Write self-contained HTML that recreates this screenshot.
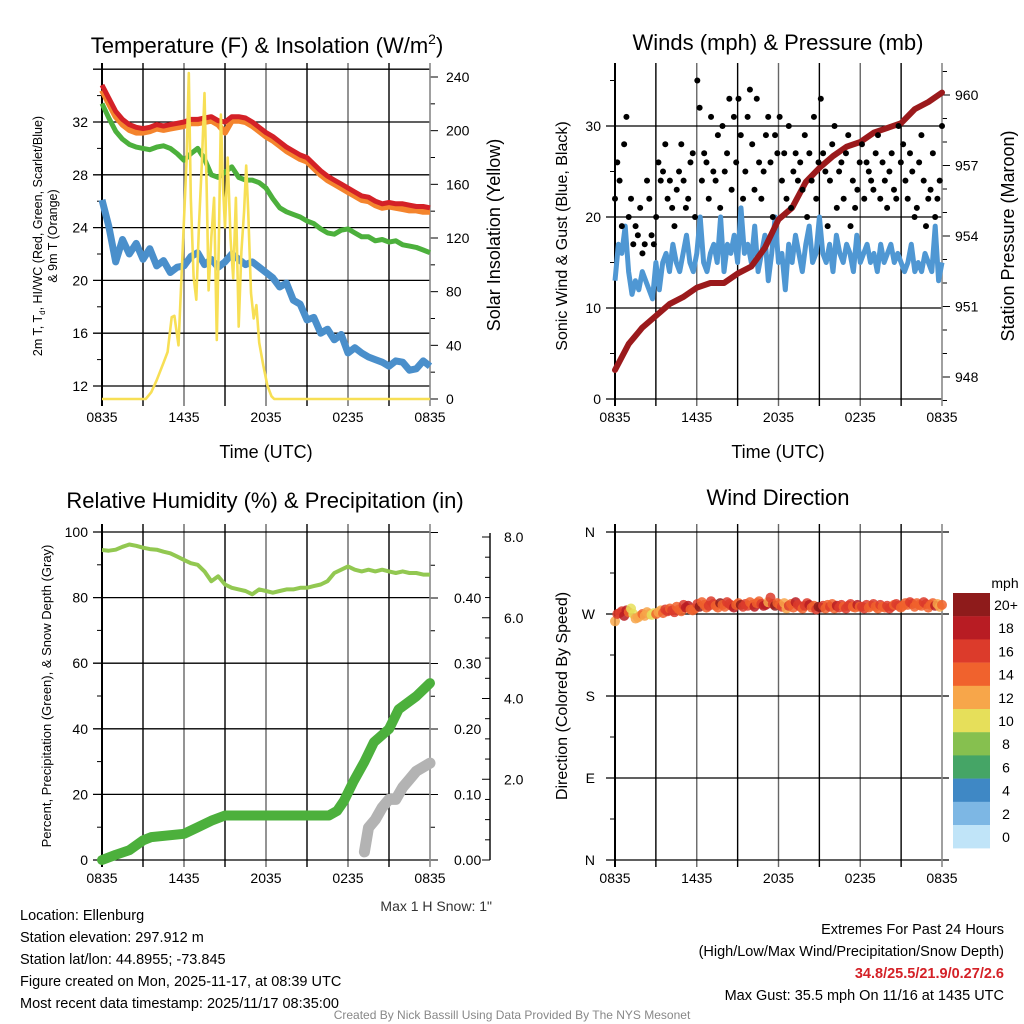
<!DOCTYPE html>
<html><head><meta charset="utf-8"><style>
html,body{margin:0;padding:0;background:#fff}
svg{display:block;font-family:"Liberation Sans",sans-serif}
</style></head><body>
<svg id="s" width="1024" height="1024" viewBox="0 0 1024 1024" xmlns="http://www.w3.org/2000/svg">
<g id="g"></g>
</svg>
<script>
const timeLabels=["0835","1435","2035","0235","0835"];
const tempLeftTicks=[12,16,20,24,28,32];
const insTicks=[0,40,80,120,160,200,240];
const windTicks=[0,10,20,30];
const presTicks=[948,951,954,957,960];
const rhTicks=[0,20,40,60,80,100];
const precTicks=["0.00","0.10","0.20","0.30","0.40"];
const snowTicks=["","2.0","4.0","6.0","8.0"];
const dirLabels=["N","E","S","W","N"];
const cbLabels=["20+","18","16","14","12","10","8","6","4","2","0"];
const cbColors=["#8e1b1b","#b81c23","#dc3b2b","#f0622d","#f7a64a","#e6df5a","#86c04f","#45a566","#3f88c5","#7db7e4","#c0e4f8"];

const tempRed=[34.8,33.8,32.8,32.2,31.8,31.6,31.5,31.6,31.8,31.7,31.8,31.9,32.0,32.2,32.2,32.3,32.4,32.1,32.0,32.4,32.4,32.3,32.0,31.6,31.2,30.9,30.5,30.1,29.8,29.5,29.3,28.8,28.3,27.9,27.6,27.3,27.0,26.7,26.4,26.3,26.0,25.8,25.9,25.8,25.8,25.7,25.6,25.6,25.5];
const tempOrange=[34.4,33.4,32.4,31.8,31.4,31.2,31.2,31.3,31.5,31.4,31.5,31.6,31.7,31.9,31.9,32.0,32.1,31.8,31.2,32.1,32.1,32.0,31.7,31.3,30.9,30.6,30.2,29.8,29.5,29.2,29.0,28.5,28.0,27.6,27.3,27.0,26.7,26.4,26.1,26.0,25.7,25.5,25.6,25.5,25.4,25.3,25.3,25.2,25.2];
const tempGreen=[33.4,32.3,31.3,30.7,30.3,30.1,30.0,29.9,30.1,30.2,30.0,29.6,29.1,29.6,30.0,29.2,28.0,27.8,28.2,28.6,27.8,27.6,27.6,27.4,27.0,26.2,25.5,25.2,25.0,24.8,24.5,24.3,23.9,23.6,23.5,23.8,23.9,23.6,23.3,23.3,23.0,23.1,22.9,23.0,22.7,22.6,22.5,22.3,22.1];
const dewBlue=[26.1,24.1,21.4,23.1,22.0,22.8,21.6,22.4,21.1,21.5,20.6,21.0,21.1,21.8,22.1,21.2,21.6,21.0,21.4,22.0,21.6,21.2,21.4,21.0,20.6,20.2,19.5,19.8,18.5,18.2,17.0,17.2,16.0,16.3,15.5,15.9,14.5,14.9,14.5,14.2,14.0,13.8,13.5,13.9,13.8,13.2,13.3,13.9,13.5];
const insTimes=[0,3.2,3.6,4,4.5,4.8,5.1,5.3,5.6,5.9,6.2,6.35,6.5,6.7,6.9,7.1,7.3,7.5,7.65,7.8,8.0,8.2,8.4,8.55,8.7,8.85,9.0,9.2,9.4,9.6,9.8,10.0,10.2,10.4,10.55,10.7,10.9,11.1,11.3,11.5,11.8,12.1,12.4,12.6,24];
const insValues=[0,0,5,14,27,35,61,62,40,110,180,243,150,91,74,130,175,228,160,81,120,150,44,120,212,160,128,180,120,90,150,54,110,140,174,140,79,60,70,42,25,10,2,0,0];

const sonicWind=[13,17,16,19,14,11.5,13,12,14,13,12,11,15,12,15,16,14,17,15,14,16,18,15,14,16,20,15,14,16,17,15,20,14,17,16,18,15,21,16,17,15,19,14,16,18,13,16,20,15,16,12,17,15,18,16,14,17,19,15,16,20,16,15,17,14,18,16,15,17,16,14,18,15,16,17,15,16,14,17,15,16,17,15,16,15,14,15,17,14,15,14,16,15,14,19,13,15];
const gusts=[22,26,24,19,28,31,20,22,17,19,18,21,16,17,24,22,18,17,20,26,24,25,28,22,24,21,19,23,25,28,24,21,22,26,27,20,35,32,24,27,26,22,31,25,24,29,21,30,25,27,33,23,31,26,33,29,22,25,31,34,28,23,33,26,22,25,29,31,26,20,29,27,31,24,27,22,30,21,25,27,24,26,23,29,20,27,24,31,22,26,33,27,25,19,24,28,30,21,25,26,22,27,29,19,24,21,23,26,28,22,26,25,24,23,27,29,22,26,24,21,25,27,23,22,30,26,28,24,22,27,25,20,21,26,29,24,19,22,23,27,20,22,24,30];
const pressure=[948.3,949.4,950.1,950.6,951.1,951.4,951.8,952.0,952.0,952.4,952.7,953.5,954.7,955.2,956.3,956.9,957.4,957.8,958.0,958.4,958.6,958.8,959.4,959.7,960.1];

const rh=[94.5,94.3,94.6,95.5,96.2,95.8,95.2,94.8,94.6,94.0,93.5,92.5,91.5,90.5,90.0,88.0,85.0,86.5,84.0,83.0,82.5,82.0,81.0,82.5,82.0,81.5,82.0,82.5,82.5,83.0,83.0,83.5,84.0,85.0,87.5,88.5,89.5,88.5,88.0,88.5,88.0,88.5,88.0,87.5,88.0,87.5,87.5,87.0,87.0];
const precTimes=[0,1,2,3,3.6,6,7,8,9,16.6,17.2,17.7,18.4,19.2,19.9,21,21.7,23,24];
const precValues=[0,0.008,0.015,0.03,0.035,0.04,0.05,0.06,0.068,0.068,0.075,0.09,0.12,0.15,0.18,0.2,0.23,0.25,0.27];
const snowTimes=[19.2,19.5,20,20.5,21,21.5,22,22.5,23,24];
const snowValues=[0.2,0.8,1.0,1.3,1.5,1.5,1.8,2.0,2.2,2.4];
const windDir=[262,270,271,273,268,274,272,276,270,265,266,268,270,268,272,270,269,271,270,272,274,271,275,273,276,274,272,278,275,273,280,277,279,275,274,276,281,278,283,280,277,279,284,281,279,277,282,280,278,283,281,279,277,280,282,280,278,281,279,283,280,278,282,284,281,279,280,283,288,281,279,282,280,278,282,276,279,281,277,283,280,278,276,279,282,280,277,279,275,278,277,279,276,280,278,281,276,279,277,280,278,276,279,281,278,277,280,278,278,276,280,277,279,281,278,276,280,278,277,279,276,278,280,281,279,277,279,282,280,283,281,278,282,280,279,283,281,277,280,282,279,281,278,280];

const NS="http://www.w3.org/2000/svg";
const G=document.getElementById('g');
function el(tag,attrs,parent){const e=document.createElementNS(NS,tag);for(const k in attrs)e.setAttribute(k,attrs[k]);(parent||G).appendChild(e);return e;}
function txt(x,y,s,size,anchor,parent,extra){const t=el('text',Object.assign({x:x,y:y,'font-size':size,'text-anchor':anchor||'middle',fill:'#000'},extra||{}),parent);t.textContent=s;return t;}
function lin(d0,d1,r0,r1){return v=>r0+(v-d0)/(d1-d0)*(r1-r0);}
function pathFrom(xs,ys){let d='';for(let i=0;i<xs.length;i++)d+=(i?'L':'M')+xs[i].toFixed(1)+','+ys[i].toFixed(1);return d;}
function idxT(n,i){return i*24/(n-1);}

function frame(x0,x1,y0,y1,name){
  const g=el('g',{});
  
  
  const xs=lin(0,24,x0,x1);
  for(let h=3;h<24;h+=3){const l=el('line',{x1:xs(h),x2:xs(h),y1:y0-9,y2:y1+7,stroke:(h%6==0?'#666':'#000'),'stroke-width':1.4},g);
    }
  for(let i=0;i<timeLabels.length;i++){const t=txt(xs(i*6),y1+23,timeLabels[i],14,'middle',g);
    }
  return {g,xs};
}
function box(x0,x1,y0,y1,g){
  el('line',{x1:x0,x2:x0,y1:y0-9,y2:y1+7,stroke:'#000','stroke-width':2},g);
  el('line',{x1:x1,x2:x1,y1:y0-9,y2:y1+7,stroke:'#888','stroke-width':1.6},g);
}

/* ---------- Panel 1 ---------- */
(function(){
  const x0=102,x1=430,y0=72,y1=399;
  const {g,xs}=frame(x0,x1,y0,y1,'temperature-panel');
  const yt=lin(12,32,386,122), yi=lin(0,240,399,77);
  for(let v=12;v<=36;v+=4){const l=el('line',{x1:x0-9,x2:x1,y1:yt(v),y2:yt(v),stroke:'#000','stroke-width':1.3},g);}
  for(let v=14;v<=34;v+=4)el('line',{x1:x0-5,x2:x0,y1:yt(v),y2:yt(v),stroke:'#000'},g);
  tempLeftTicks.forEach(v=>{const t=txt(x0-14,yt(v)+5,String(v),14,'end',g);});
  for(let v=0;v<=240;v+=20)el('line',{x1:x1,x2:x1+(v%40==0?8:5),y1:yi(v),y2:yi(v),stroke:'#000'},g);
  insTicks.forEach(v=>{const t=txt(x1+16,yi(v)+5,String(v),14,'start',g);});
  box(x0,x1,y0,y1,g);
  const series=[[dewBlue,'#4a8fcb','dewpoint-line',7],[tempGreen,'#4cb03c','heat-index-line',5],[tempOrange,'#f4842d','temp-9m-line',6],[tempRed,'#d42127','temp-2m-line',5]];
  series.forEach(s=>{const arr=s[0];const p=el('path',{d:pathFrom(arr.map((v,i)=>xs(idxT(arr.length,i))),arr.map(v=>yt(v))),fill:'none',stroke:s[1],'stroke-width':s[3],'stroke-linejoin':'round'},g);
    });
  const ip=el('path',{d:pathFrom(insTimes.map(xs),insValues.map(yi)),fill:'none',stroke:'#f7df55','stroke-width':2.6,'stroke-linejoin':'round'},g);
  
  const t=el('text',{x:267,y:53,'font-size':22,'text-anchor':'middle',fill:'#000'},g);
  t.innerHTML='Temperature (F) &amp; Insolation (W/m<tspan dy="-9" font-size="14">2</tspan><tspan dy="9">)</tspan>';
  
  const xt=txt(266,458,'Time (UTC)',18,'middle',g);
  const a=el('text',{transform:'translate(42,236) rotate(-90)','font-size':12.5,'text-anchor':'middle',fill:'#000'},g);
  a.innerHTML='2m T, T<tspan dy="3" font-size="8">d</tspan><tspan dy="-3">, HI/WC (Red, Green, Scarlet/Blue)</tspan>';
  
  const a2=el('text',{transform:'translate(57,236) rotate(-90)','font-size':12.5,'text-anchor':'middle',fill:'#000'},g);a2.textContent='& 9m T (Orange)';
  
  const r=el('text',{transform:'translate(500,235) rotate(-90)','font-size':18,'text-anchor':'middle',fill:'#000'},g);r.textContent='Solar Insolation (Yellow)';
  
})();

/* ---------- Panel 2 ---------- */
(function(){
  const x0=615,x1=942,y0=72,y1=399;
  const {g,xs}=frame(x0,x1,y0,y1,'winds-panel');
  const yw=lin(0,30,399,126), yp=lin(948,960,377,95);
  for(let v=0;v<=30;v+=10){const l=el('line',{x1:x0-9,x2:x1,y1:yw(v),y2:yw(v),stroke:'#000','stroke-width':1.3},g);}
  for(let v=5;v<=35;v+=10)el('line',{x1:x0-5,x2:x0,y1:yw(v),y2:yw(v),stroke:'#000'},g);
  windTicks.forEach(v=>{const t=txt(x0-14,yw(v)+5,String(v),14,'end',g);});
  for(let v=947;v<=961;v+=1)el('line',{x1:x1,x2:x1+((v-948)%3==0?8:5),y1:yp(v),y2:yp(v),stroke:'#000'},g);
  presTicks.forEach(v=>{const t=txt(x1+13,yp(v)+5,String(v),14,'start',g);});
  box(x0,x1,y0,y1,g);
  const wp=el('path',{d:pathFrom(sonicWind.map((v,i)=>xs(idxT(sonicWind.length,i))),sonicWind.map(yw)),fill:'none',stroke:'#4f97d3','stroke-width':5,'stroke-linejoin':'round'},g);
  
  const pp=el('path',{d:pathFrom(pressure.map((v,i)=>xs(idxT(pressure.length,i))),pressure.map(yp)),fill:'none',stroke:'#9b1a1c','stroke-width':6,'stroke-linejoin':'round','stroke-linecap':'round'},g);
  
  gusts.forEach((v,i)=>{const c=el('circle',{cx:xs(idxT(gusts.length,i)),cy:yw(v),r:3,fill:'#000'},g);
    });
  const t=txt(778,50,'Winds (mph) & Pressure (mb)',22,'middle',g);
  const xt=txt(778,458,'Time (UTC)',18,'middle',g);
  const a=el('text',{transform:'translate(567,236) rotate(-90)','font-size':16,'text-anchor':'middle',fill:'#000'},g);a.textContent='Sonic Wind & Gust (Blue, Black)';
  
  const r=el('text',{transform:'translate(1014,236) rotate(-90)','font-size':18,'text-anchor':'middle',fill:'#000'},g);r.textContent='Station Pressure (Maroon)';
  
})();

/* ---------- Panel 3 ---------- */
(function(){
  const x0=102,x1=430,y0=533,y1=860;
  const {g,xs}=frame(x0,x1,y0,y1,'humidity-panel');
  const yr=lin(0,100,860,532), yq=lin(0,0.1,860,794.5), ys=lin(0,8,860,537);
  for(let v=0;v<=100;v+=20){const l=el('line',{x1:x0-9,x2:x1,y1:yr(v),y2:yr(v),stroke:'#000','stroke-width':1.3},g);}
  for(let v=10;v<=90;v+=20)el('line',{x1:x0-5,x2:x0,y1:yr(v),y2:yr(v),stroke:'#000'},g);
  rhTicks.forEach(v=>{const t=txt(x0-14,yr(v)+5,String(v),14,'end',g);});
  for(let i=0;i<=10;i++){const v=i*0.05;el('line',{x1:x1,x2:x1+(i%2==0?8:5),y1:yq(v),y2:yq(v),stroke:'#000'},g);}
  precTicks.forEach((s,i)=>{const t=txt(x1+24,yq(i*0.1)+5,s,14,'start',g);});
  el('line',{x1:490,x2:490,y1:533,y2:860,stroke:'#000','stroke-width':1.4},g);
  for(let i=0;i<=16;i++){el('line',{x1:490,x2:490-(i%4==0?8:5),y1:ys(i*0.5),y2:ys(i*0.5),stroke:'#000'},g);}
  snowTicks.forEach((s,i)=>{if(!s)return;const t=txt(504,ys(i*2)+5,s,14,'start',g);});
  box(x0,x1,y0,y1,g);
  const rp=el('path',{d:pathFrom(rh.map((v,i)=>xs(idxT(rh.length,i))),rh.map(yr)),fill:'none',stroke:'#92c851','stroke-width':4,'stroke-linejoin':'round'},g);
  
  const sp=el('path',{d:pathFrom(snowTimes.map(xs),snowValues.map(ys)),fill:'none',stroke:'#b3b3b3','stroke-width':11,'stroke-linejoin':'round','stroke-linecap':'round'},g);
  
  const qp=el('path',{d:pathFrom(precTimes.map(xs),precValues.map(yq)),fill:'none',stroke:'#4cb03c','stroke-width':10,'stroke-linejoin':'round','stroke-linecap':'round'},g);
  
  const t=txt(265,508,'Relative Humidity (%) & Precipitation (in)',22,'middle',g);
  const a=el('text',{transform:'translate(51,696) rotate(-90)','font-size':13,'text-anchor':'middle',fill:'#000'},g);a.textContent='Percent, Precipitation (Green), & Snow Depth (Gray)';
  
  const n=txt(492,911,'Max 1 H Snow: 1"',14,'end',g,{fill:'#333'});
})();

/* ---------- Panel 4 ---------- */
(function(){
  const x0=615,x1=942,y0=533,y1=860;
  const {g,xs}=frame(x0,x1,y0,y1,'wind-direction-panel');
  const yd=lin(0,360,860,532);
  for(let v=0;v<=360;v+=90){const l=el('line',{x1:x0-9,x2:x1+7,y1:yd(v),y2:yd(v),stroke:'#000','stroke-width':1.3},g);}
  for(let v=45;v<360;v+=90)el('line',{x1:x0-5,x2:x0,y1:yd(v),y2:yd(v),stroke:'#000'},g);
  dirLabels.forEach((s,i)=>{const t=txt(x0-20,yd(i*90)+5,s,14,'end',g);});
  box(x0,x1,y0,y1,g);
  windDir.forEach((v,i)=>{const tt=idxT(windDir.length,i);const wi=Math.round(tt/24*(sonicWind.length-1));const sp=sonicWind[wi];
    const ci=Math.max(0,Math.min(10,10-Math.floor(sp/2)));
    const c=el('circle',{cx:xs(tt),cy:yd(v),r:5,fill:cbColors[ci],'fill-opacity':0.85},g);
    });
  const t=txt(778,505,'Wind Direction',22,'middle',g);
  const a=el('text',{transform:'translate(567,696) rotate(-90)','font-size':16,'text-anchor':'middle',fill:'#000'},g);a.textContent='Direction (Colored By Speed)';
  
  const lg=el('g',{},g);
  txt(1005,588,'mph',14,'middle',lg);
  cbColors.forEach((c,i)=>{const r=el('rect',{x:953,y:593+i*23.2,width:37,height:23.4,fill:c},lg);
    
    const l=txt(1006,593+i*23.2+17,cbLabels[i],14,'middle',lg);});
})();

/* ---------- Footer text ---------- */
(function(){
  const g=el('g',{});
  ["Location: Ellenburg","Station elevation: 297.912 m","Station lat/lon: 44.8955; -73.845","Figure created on Mon, 2025-11-17, at 08:39 UTC","Most recent data timestamp: 2025/11/17 08:35:00"].forEach((s,i)=>{
    const t=txt(20,920+i*22,s,14.5,'start',g);});
  const g2=el('g',{});
  const rows=[["Extremes For Past 24 Hours",'#000',''],["(High/Low/Max Wind/Precipitation/Snow Depth)",'#000',''],["34.8/25.5/21.9/0.27/2.6",'#d42127','bold'],["Max Gust: 35.5 mph On 11/16 at 1435 UTC",'#000','']];
  rows.forEach((r,i)=>{const t=txt(1004,934+i*22,r[0],14.5,'end',g2,{fill:r[1],'font-weight':r[2]||'normal'});});
  const f=txt(512,1019,'Created By Nick Bassill Using Data Provided By The NYS Mesonet',12,'middle',null,{fill:'#888'});
  
})();
</script>
</body></html>
